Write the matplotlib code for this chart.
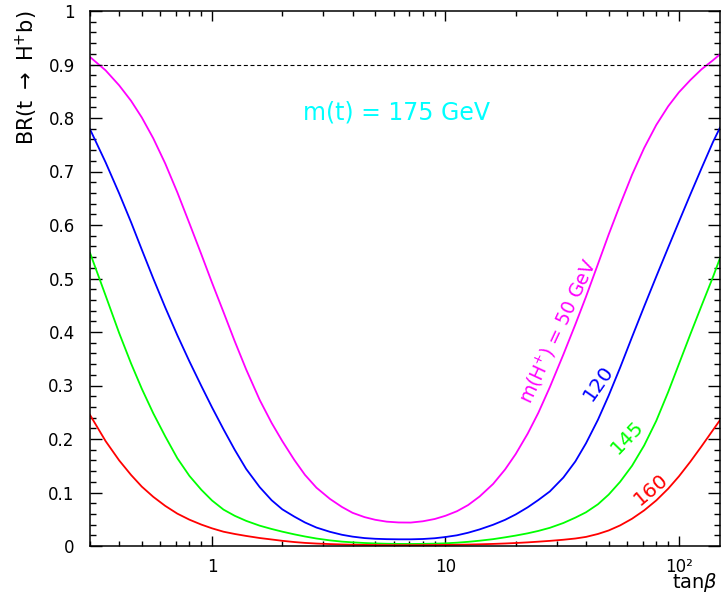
#!/usr/bin/env python3
# -*- coding: utf-8 -*-
"""BR(t -> H+ b) versus tan(beta) for several charged Higgs masses."""

import matplotlib as mpl
mpl.use("Agg")
import matplotlib.pyplot as plt
from matplotlib.ticker import FixedLocator, FixedFormatter


# =======================
# Global style
# =======================
mpl.rcParams["font.family"] = ["DejaVu Sans"]
mpl.rcParams["mathtext.fontset"] = "dejavusans"
mpl.rcParams["axes.unicode_minus"] = False


# =======================
# Data
# =======================
TANB = [0.3, 0.35, 0.4, 0.45, 0.5, 0.56, 0.63, 0.71, 0.8, 0.9,
        1.0, 1.12, 1.25, 1.4, 1.6, 1.8, 2.0, 2.25, 2.5, 2.8,
        3.2, 3.6, 4.0, 4.5, 5.0, 5.6, 6.3, 7.1, 8, 9,
        10, 11.2, 12.5, 14, 16, 18, 20, 22.5, 25, 28,
        32, 36, 40, 45, 50, 56, 63, 71, 80, 90,
        100, 112, 125, 140, 150]

# m(H+) = 50 GeV
BR_50 = [0.914, 0.889, 0.861, 0.832, 0.801, 0.762, 0.715, 0.661, 0.603, 0.545,
         0.492, 0.437, 0.383, 0.330, 0.273, 0.230, 0.196, 0.161, 0.133, 0.109,
         0.088, 0.073, 0.062, 0.054, 0.049, 0.0455, 0.0440, 0.0438, 0.0462, 0.0505,
         0.0565, 0.065, 0.0765, 0.0925, 0.116, 0.143, 0.172, 0.210, 0.249, 0.297,
         0.358, 0.414, 0.466, 0.527, 0.582, 0.638, 0.694, 0.744, 0.787, 0.822,
         0.848, 0.871, 0.891, 0.908, 0.919]

# m(H+) = 120 GeV
BR_120 = [0.779, 0.717, 0.659, 0.605, 0.554, 0.500, 0.446, 0.394, 0.345, 0.299,
          0.259, 0.218, 0.180, 0.144, 0.110, 0.0855, 0.0685, 0.055, 0.044, 0.0345,
          0.0265, 0.021, 0.0175, 0.0148, 0.0135, 0.0128, 0.0125, 0.0125, 0.0131, 0.0145,
          0.0168, 0.020, 0.0248, 0.031, 0.0397, 0.0489, 0.059, 0.0723, 0.086, 0.102,
          0.128, 0.158, 0.192, 0.236, 0.281, 0.3334, 0.3907, 0.4478, 0.5037, 0.558,
          0.6061, 0.6573, 0.706, 0.7552, 0.782]

# m(H+) = 145 GeV
BR_145 = [0.548, 0.468, 0.398, 0.341, 0.294, 0.248, 0.205, 0.164, 0.131, 0.105,
          0.085, 0.068, 0.0565, 0.047, 0.038, 0.0318, 0.0268, 0.0218, 0.0178, 0.014,
          0.0105, 0.0082, 0.0068, 0.0056, 0.0048, 0.0042, 0.0039, 0.0038, 0.0040, 0.0044,
          0.005, 0.0062, 0.0078, 0.0099, 0.0128, 0.0162, 0.0195, 0.0237, 0.0282, 0.034,
          0.043, 0.053, 0.063, 0.078, 0.096, 0.120, 0.150, 0.188, 0.234, 0.288,
          0.340, 0.396, 0.449, 0.503, 0.538]

# m(H+) = 160 GeV
BR_160 = [0.245, 0.196, 0.160, 0.1327, 0.111, 0.0919, 0.075, 0.0605, 0.0492, 0.040,
          0.033, 0.0267, 0.0225, 0.0188, 0.0149, 0.0122, 0.0097, 0.0074, 0.0058, 0.0046,
          0.0036, 0.0029, 0.0024, 0.002, 0.0018, 0.0016, 0.0015, 0.0015, 0.0016, 0.0018,
          0.0020, 0.0023, 0.0027, 0.0032, 0.0039, 0.0047, 0.0056, 0.0068, 0.0081, 0.0096,
          0.0117, 0.0140, 0.0170, 0.0225, 0.0290, 0.0385, 0.051, 0.0666, 0.0852, 0.1072,
          0.1301, 0.1577, 0.1863, 0.2168, 0.2354]

CURVE_LABELS = ["m(H$^{+}$) = 50 GeV", "120", "145", "160"]
X_TICKS = [1, 10, 100]
X_TICK_LABELS = ["1", "10", "10\u00b2"]
Y_TICK_LABELS = ["0", "0.1", "0.2", "0.3", "0.4", "0.5", "0.6", "0.7", "0.8", "0.9", "1"]
BR_LIMIT = 0.9


# =======================
# Style parameters
# =======================
COLORS = ["#ff00ff", "#0000ff", "#00ff00", "#ff0000"]
# label centre (data coords), rotation and size for each curve label
LABEL_POS = [(30.4, 0.402, 65, 13.5), (45.1, 0.305, 55, 14.5),
             (60.1, 0.204, 46, 14.5), (75.7, 0.105, 40, 14.5)]


def main():
    fig = plt.figure(figsize=(7.24, 5.95), dpi=100)
    ax = fig.add_axes([90 / 724, 49 / 595, 630 / 724, 535 / 595])

    for y, c in zip([BR_50, BR_120, BR_145, BR_160], COLORS):
        ax.plot(TANB, y, color=c, lw=1.3, solid_joinstyle="round")

    ax.axhline(BR_LIMIT, color="black", lw=0.8, ls=(0, (3.6, 2.4)))

    for text, c, (lx, ly, rot, fs) in zip(CURVE_LABELS, COLORS, LABEL_POS):
        ax.text(lx, ly, text, color=c, fontsize=fs, rotation=rot,
                rotation_mode="anchor", ha="center", va="center")

    ax.text(6.17, 0.811, "m(t) = 175 GeV", color="#00ffff", fontsize=17,
            ha="center", va="center")

    # axes and ticks
    ax.set_xscale("log")
    ax.set_xlim(0.3, 150)
    ax.set_ylim(0, 1)

    ax.xaxis.set_major_locator(FixedLocator(X_TICKS))
    ax.xaxis.set_major_formatter(FixedFormatter(X_TICK_LABELS))
    minors = [m * d for d in (0.1, 1, 10) for m in range(2, 10) if 0.3 < m * d < 150]
    ax.xaxis.set_minor_locator(FixedLocator(minors))
    ax.xaxis.set_minor_formatter(FixedFormatter([""] * len(minors)))

    y_major = [i / 10 for i in range(11)]
    ax.yaxis.set_major_locator(FixedLocator(y_major))
    ax.yaxis.set_major_formatter(FixedFormatter(Y_TICK_LABELS))
    ax.yaxis.set_minor_locator(FixedLocator([i / 50 for i in range(51)]))

    ax.tick_params(which="both", direction="in", top=True, right=True, width=1.0)
    ax.tick_params(axis="x", which="major", length=7, pad=9, labelsize=12)
    ax.tick_params(axis="x", which="minor", length=3.6)
    ax.tick_params(axis="y", which="major", length=8.6, pad=11, labelsize=12)
    ax.tick_params(axis="y", which="minor", length=4.3)
    for s in ax.spines.values():
        s.set_linewidth(1.1)

    ax.set_ylabel("BR(t $\\rightarrow$ H$^{+}$b)", fontsize=15, loc="top")
    ax.yaxis.set_label_coords(-0.079, 1.0)
    ax.set_xlabel("tan$\\beta$", fontsize=14, loc="right", va="baseline")
    ax.xaxis.set_label_coords(0.997, -0.078)

    fig.savefig("out.png", dpi=100)


if __name__ == "__main__":
    main()
